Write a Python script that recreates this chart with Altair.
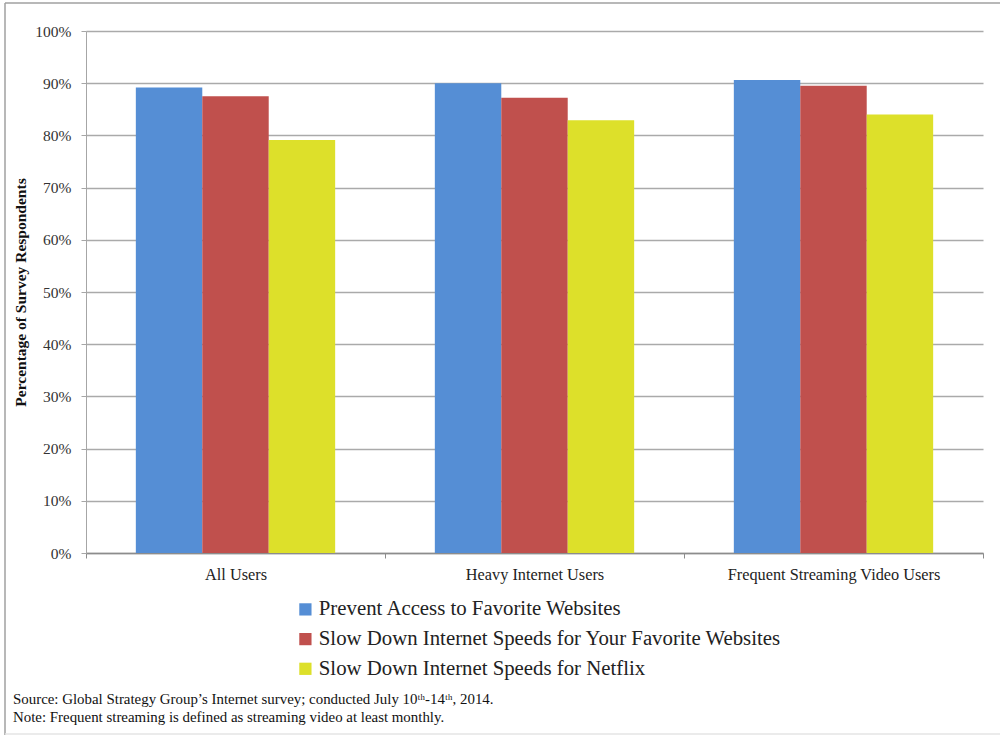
import altair as alt
import pandas as pd

# Survey results, share of respondents (%)
groups = ["All Users", "Heavy Internet Users", "Frequent Streaming Video Users"]
series = [
    "Prevent Access to Favorite Websites",
    "Slow Down Internet Speeds for Your Favorite Websites",
    "Slow Down Internet Speeds for Netflix",
]
prevent_access = [89.2, 90.0, 90.6]
slow_favorites = [87.5, 87.2, 89.5]
slow_netflix = [79.1, 82.9, 84.0]
colors = ["#558ED5", "#C0504D", "#DDE02A"]

source_note = "Source: Global Strategy Group\u2019s Internet survey; conducted July 10\u1d57\u02b0-14\u1d57\u02b0, 2014."
def_note = "Note: Frequent streaming is defined as streaming video at least monthly."

rows = []
for name, vals in zip(series, [prevent_access, slow_favorites, slow_netflix]):
    for g, v in zip(groups, vals):
        rows.append({"group": g, "series": name, "value": v / 100.0})
df = pd.DataFrame(rows)

W, H = 897, 522
SERIF = "Liberation Serif"

bars = alt.Chart(df).mark_bar().encode(
    x=alt.X(
        "group:N",
        sort=groups,
        scale=alt.Scale(paddingInner=0, paddingOuter=0),
        axis=alt.Axis(
            title=None,
            labelAngle=0,
            labelFont=SERIF,
            labelFontSize=16.3,
            labelColor="#222222",
            labelLimit=400,
            labelPadding=8,
            tickBand="extent",
            tickSize=5,
            tickColor="#8c8c8c",
            domainColor="#8c8c8c",
            domainWidth=1.5,
        ),
    ),
    xOffset=alt.XOffset(
        "series:N",
        sort=series,
        scale=alt.Scale(paddingInner=0, paddingOuter=0.75),
    ),
    y=alt.Y(
        "value:Q",
        scale=alt.Scale(domain=[0, 1]),
        axis=alt.Axis(
            format=".0%",
            values=[i / 10 for i in range(11)],
            title="Percentage of Survey Respondents",
            titleFont=SERIF,
            titleFontSize=15.5,
            titleFontWeight="bold",
            titleColor="#111111",
            titleX=-58,
            titleY=261,
            titleAngle=-90,
            titleAnchor="middle",
            labelFont=SERIF,
            labelFontSize=15.5,
            labelColor="#333333",
            labelPadding=10,
            tickSize=5,
            tickColor="#a6a6a6",
            domainColor="#a6a6a6",
            gridColor="#aaaaaa",
            gridWidth=1.4,
        ),
    ),
    color=alt.Color(
        "series:N",
        sort=series,
        scale=alt.Scale(domain=series, range=colors),
        legend=alt.Legend(
            title=None,
            orient="none",
            legendX=209,
            legendY=568,
            symbolType="square",
            symbolSize=150,
            symbolStrokeWidth=0,
            labelFont=SERIF,
            labelFontSize=20.8,
            labelColor="#222222",
            labelLimit=700,
            labelOffset=3,
            rowPadding=7.7,
        ),
    ),
)

notes = pd.DataFrame({"line": [source_note, def_note], "y": [700, 718]})
note_text = alt.Chart(notes).mark_text(
    align="left", baseline="middle", font=SERIF, fontSize=14.9, color="#111111"
).encode(
    text="line:N",
    x=alt.value(13 - 86),
    y=alt.Y("y:Q", scale=alt.Scale(domain=[31, 553], range=[0, H]), axis=None),
)

# Page frame: top and left edges, with a faint bottom edge
frame_top = alt.Chart(pd.DataFrame({"k": [0]})).mark_rule(
    stroke="#a0a0a0", strokeWidth=1.5, clip=False
).encode(x=alt.value(5 - 86), x2=alt.value(1005 - 86), y=alt.value(3 - 31))
frame_left = alt.Chart(pd.DataFrame({"k": [0]})).mark_rule(
    stroke="#a0a0a0", strokeWidth=1.5, clip=False
).encode(x=alt.value(5 - 86), y=alt.value(3 - 31), y2=alt.value(740 - 31))
frame_bottom = alt.Chart(pd.DataFrame({"k": [0]})).mark_rule(
    stroke="#e4e4e4", strokeWidth=1.5, clip=False
).encode(x=alt.value(5 - 86), x2=alt.value(1005 - 86), y=alt.value(734 - 31))

chart = (
    alt.layer(frame_top, frame_left, frame_bottom, bars, note_text)
    .resolve_scale(y="independent")
    .properties(
        width=W,
        height=H,
        padding={"left": 86, "top": 31, "right": 17, "bottom": 182},
        autosize=alt.AutoSizeParams(type="none"),
        background="white",
    )
    .configure_view(stroke=None)
    .configure_legend(labelFont=SERIF)
)

chart.save("out.html", embed_options={"renderer": "svg", "actions": False})
